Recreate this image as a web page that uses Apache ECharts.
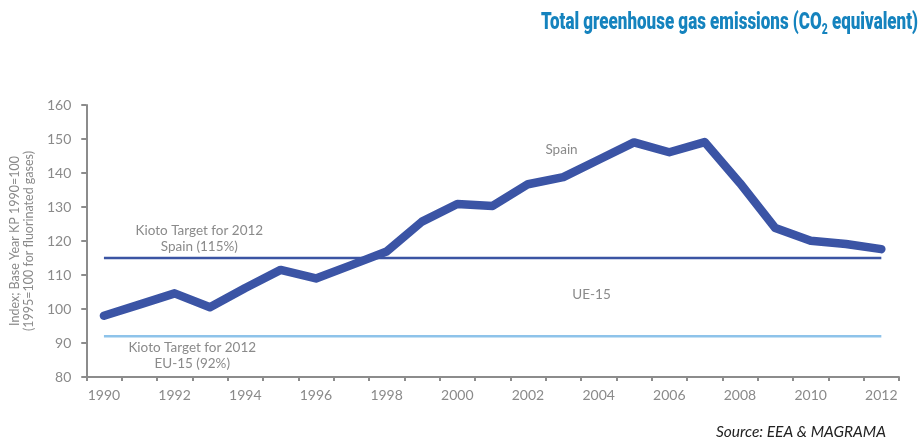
<!DOCTYPE html>
<html>
<head>
<meta charset="utf-8">
<script src="https://cdn.jsdelivr.net/npm/echarts@6/dist/echarts.min.js"></script>
<style>
  html, body { margin: 0; padding: 0; background: #fff; }
  #chart { width: 921px; height: 441px; }
</style>
</head>
<body>
<div id="chart"></div>
<script>
// Years on the horizontal axis
const years = ['1990','1991','1992','1993','1994','1995','1996','1997','1998','1999','2000',
               '2001','2002','2003','2004','2005','2006','2007','2008','2009','2010','2011','2012'];

// Spain: total GHG emissions index (base year = 100)
const spain = [98.0, 101.3, 104.6, 100.5, 106.2, 111.5, 109.0, 112.9, 116.9, 125.7, 130.9,
               130.3, 136.7, 138.8, 143.9, 149.0, 146.1, 149.1, 137.0, 123.8, 120.1, 119.1, 117.6];

// Kyoto targets for 2012
const spainTarget = 115;
const eu15Target = 92;

// Value axis range
const yMin = 80, yMax = 160, yStep = 10;

const grey = '#8a8a8a';
const font = 'Lato, "Open Sans", sans-serif';
const titleFont = 'Roboto, "Open Sans", sans-serif';
const titleColor = '#1583be';

const chart = echarts.init(document.getElementById('chart'));

chart.setOption({
  animation: false,
  backgroundColor: '#ffffff',
  grid: { left: 82, right: 22, top: 105, bottom: 64, containLabel: false },
  xAxis: {
    type: 'category',
    data: years,
    boundaryGap: true,
    axisLine: { show: true, lineStyle: { color: '#8c8c8c', width: 2 } },
    axisTick: { show: true, interval: 0, length: 4, lineStyle: { color: '#8c8c8c', width: 2 } },
    axisLabel: { interval: 1, color: grey, fontFamily: font, fontSize: 14, margin: 11 },
    splitLine: { show: false }
  },
  yAxis: {
    type: 'value',
    min: yMin, max: yMax, interval: yStep,
    name: 'Index; Base Year KP 1990=100\n(1995=100 for fluorinated gases)',
    nameLocation: 'middle',
    nameRotate: 90,
    nameGap: 50,
    nameTextStyle: { color: grey, fontFamily: font, fontSize: 12.5, lineHeight: 14 },
    axisLine: { show: true, lineStyle: { color: '#8c8c8c', width: 2 } },
    axisTick: { show: true, length: 5, lineStyle: { color: '#8c8c8c', width: 2 } },
    axisLabel: { color: grey, fontFamily: font, fontSize: 14, margin: 15 },
    splitLine: { show: false }
  },
  series: [
    {
      name: 'EU-15 target',
      type: 'line',
      data: years.map(() => eu15Target),
      symbol: 'none',
      lineStyle: { color: '#8ec3ea', width: 2.5 },
      z: 2
    },
    {
      name: 'Spain target',
      type: 'line',
      data: years.map(() => spainTarget),
      symbol: 'none',
      lineStyle: { color: '#3b54a3', width: 2.5 },
      z: 2
    },
    {
      name: 'Spain',
      type: 'line',
      data: spain,
      symbol: 'none',
      lineStyle: { color: '#3b54a5', width: 8.5, cap: 'round', join: 'round' },
      z: 3
    }
  ]
});

// Annotation text anchored between two categories (frac = 0 at yearA, 1 at yearB)
function labelAt(yearA, yearB, frac, value, text) {
  const a = chart.convertToPixel({ gridIndex: 0 }, [yearA, value]);
  const b = chart.convertToPixel({ gridIndex: 0 }, [yearB, value]);
  return {
    type: 'text',
    x: a[0] + (b[0] - a[0]) * frac, y: a[1],
    style: {
      text: text,
      fill: grey,
      font: '13.5px ' + font,
      align: 'center',
      verticalAlign: 'middle',
      lineHeight: 16
    }
  };
}

// Condensed heavy title: horizontally squeezed to a fixed width
const titleMain = 'Total greenhouse gas emissions (CO';
const titleSub = '2';
const titleEnd = ' equivalent)';
const mainFont = '900 23px ' + titleFont;
const subFont = '900 14px ' + titleFont;
const ctx = document.createElement('canvas').getContext('2d');
ctx.font = mainFont;
let w = ctx.measureText(titleMain).width + ctx.measureText(titleEnd).width;
ctx.font = subFont;
w += ctx.measureText(titleSub).width;
const titleWidth = 377;
const squeeze = titleWidth / w;

chart.setOption({
  graphic: [
    labelAt('1992', '1993', 0.7, 120.8, 'Kioto Target for 2012\nSpain (115%)'),
    labelAt('1992', '1993', 0.5, 86.4, 'Kioto Target for 2012\nEU-15 (92%)'),
    labelAt('2002', '2003', 0.95, 146.8, 'Spain'),
    labelAt('2003', '2004', 0.8, 104.3, 'UE-15'),
    {
      type: 'text',
      x: 918, y: 23,
      scaleX: squeeze,
      style: {
        text: '{t|' + titleMain + '}{s|' + titleSub + '}{t|' + titleEnd + '}',
        align: 'right',
        verticalAlign: 'middle',
        rich: {
          t: { font: mainFont, fill: titleColor },
          s: { font: subFont, fill: titleColor, padding: [14, 0, 0, 0] }
        }
      }
    },
    {
      type: 'text',
      right: 35, bottom: 1,
      style: {
        text: 'Source: EEA & MAGRAMA',
        fill: '#222',
        font: 'italic 15.5px ' + font
      }
    }
  ]
});
</script>
</body>
</html>
